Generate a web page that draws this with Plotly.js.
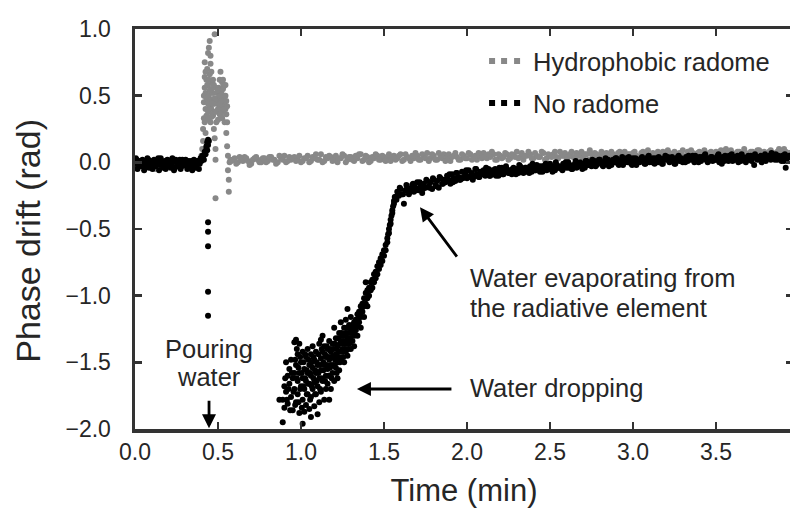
<!DOCTYPE html>
<html><head><meta charset="utf-8">
<script src="https://cdn.plot.ly/plotly-3.0.1.min.js"></script>
<style>html,body{margin:0;padding:0;overflow:hidden;background:#fff;width:790px;height:510px}</style>
</head><body><div id="chart"></div>
<script>
// ---------- Hydrophobic radome (grey) ----------
const grayPreT = [0.00,0.02,0.04,0.06,0.08,0.10,0.12,0.14,0.16,0.18,0.20,0.22,0.24,0.26,0.28,0.30,0.32,0.34,0.36,0.38,0.40];
const grayPreY = [0.01,-0.02,0.00,-0.04,0.02,-0.01,-0.05,0.01,-0.02,0.00,-0.03,0.02,-0.04,-0.01,0.01,-0.03,0.00,-0.05,-0.02,0.01,0.03];

const graySpikeT = [0.400,0.405,0.410,0.410,0.415,0.415,0.420,0.420,0.420,0.425,0.425,0.430,0.430,0.435,0.435,0.440,0.440,0.440,0.445,0.445,0.450,0.450,0.450,0.455,0.455,0.460,0.460,0.465,0.465,0.470,0.470,0.475,0.475,0.480,0.480,0.480,0.485,0.485,0.485,0.490,0.490,0.495,0.500,0.500,0.505,0.510,0.510,0.515,0.515,0.520,0.520,0.525,0.525,0.530,0.530,0.535,0.540,0.540,0.545,0.550,0.550,0.555,0.560,0.560,0.565,0.565,0.570,0.575];
const graySpikeY = [0.05,0.10,0.16,0.25,0.33,0.45,0.56,0.64,0.75,0.40,0.52,0.62,0.35,0.46,0.70,0.82,0.58,0.38,0.86,0.50,0.91,0.66,0.42,0.74,0.30,0.55,0.40,0.47,0.60,0.35,0.52,0.44,0.25,0.96,0.38,0.18,0.10,0.02,-0.27,0.45,0.30,0.52,0.40,0.48,0.56,0.36,0.62,0.45,0.68,0.40,0.53,0.60,0.33,0.47,0.38,0.57,0.43,0.30,0.50,0.36,0.22,0.12,0.05,-0.06,-0.13,-0.22,0.00,0.02];
const graySpike2T = [0.415,0.42,0.425,0.43,0.435,0.44,0.445,0.45,0.455,0.46,0.465,0.47,0.475,0.48,0.49,0.495,0.50,0.505,0.51,0.515,0.52,0.525,0.53,0.535,0.54,0.545,0.55,0.555,0.44,0.46,0.47,0.49,0.50,0.51,0.52,0.53,0.545,0.555,0.425,0.455];
const graySpike2Y = [0.50,0.30,0.68,0.48,0.58,0.32,0.62,0.54,0.46,0.68,0.36,0.44,0.58,0.48,0.38,0.44,0.32,0.40,0.50,0.36,0.46,0.42,0.55,0.40,0.50,0.40,0.46,0.30,0.44,0.34,0.62,0.56,0.54,0.44,0.34,0.62,0.58,0.42,0.22,0.80];

const grayTailT = [
0.58,0.60,0.62,0.64,0.66,0.68,0.70,0.72,0.74,0.76,
0.78,0.80,0.82,0.84,0.86,0.88,0.90,0.92,0.94,0.96,
0.98,1.00,1.02,1.04,1.06,1.08,1.10,1.12,1.14,1.16,
1.18,1.20,1.22,1.24,1.26,1.28,1.30,1.32,1.34,1.36,
1.38,1.40,1.42,1.44,1.46,1.48,1.50,1.52,1.54,1.56,
1.58,1.60,1.62,1.64,1.66,1.68,1.70,1.72,1.74,1.76,
1.78,1.80,1.82,1.84,1.86,1.88,1.90,1.92,1.94,1.96,
1.98,2.00,2.02,2.04,2.06,2.08,2.10,2.12,2.14,2.16,
2.18,2.20,2.22,2.24,2.26,2.28,2.30,2.32,2.34,2.36,
2.38,2.40,2.42,2.44,2.46,2.48,2.50,2.52,2.54,2.56,
2.58,2.60,2.62,2.64,2.66,2.68,2.70,2.72,2.74,2.76,
2.78,2.80,2.82,2.84,2.86,2.88,2.90,2.92,2.94,2.96,
2.98,3.00,3.02,3.04,3.06,3.08,3.10,3.12,3.14,3.16,
3.18,3.20,3.22,3.24,3.26,3.28,3.30,3.32,3.34,3.36,
3.38,3.40,3.42,3.44,3.46,3.48,3.50,3.52,3.54,3.56,
3.58,3.60,3.62,3.64,3.66,3.68,3.70,3.72,3.74,3.76,
3.78,3.80,3.82,3.84,3.86,3.88,3.90,3.92,3.94];
const grayTailY = [
0.01,0.03,0.00,0.02,0.04,0.01,-0.01,0.03,0.02,0.00,
0.03,0.01,0.04,0.02,0.00,0.03,0.05,0.01,0.02,0.04,
0.02,0.00,0.03,0.05,0.01,0.03,0.02,0.06,0.01,0.03,
0.04,0.02,0.00,0.03,0.05,0.02,0.04,0.01,0.03,0.06,
0.02,0.04,0.01,0.03,0.05,0.02,0.04,0.03,0.01,0.05,
0.03,0.06,0.02,0.04,0.01,0.03,0.05,0.02,0.04,0.07,
0.03,0.05,0.02,0.04,0.06,0.03,0.01,0.05,0.04,0.02,
0.05,0.03,0.06,0.04,0.02,0.05,0.07,0.03,0.04,0.06,
0.02,0.05,0.04,0.06,0.03,0.05,0.08,0.04,0.02,0.05,
0.06,0.03,0.05,0.04,0.07,0.03,0.05,0.06,0.04,0.08,
0.05,0.03,0.06,0.04,0.07,0.05,0.03,0.06,0.09,0.04,
0.06,0.05,0.03,0.07,0.05,0.06,0.04,0.08,0.05,0.03,
0.06,0.07,0.05,0.04,0.08,0.06,0.05,0.07,0.04,0.06,
0.08,0.05,0.07,0.06,0.04,0.07,0.09,0.05,0.06,0.07,
0.05,0.08,0.06,0.04,0.07,0.06,0.08,0.05,0.07,0.10,
0.06,0.07,0.05,0.08,0.06,0.07,0.04,0.08,0.06,0.09,
0.07,0.05,0.08,0.06,0.07,0.10,0.06,0.08,0.07];
const grayTail2T = [
0.59,0.61,0.63,0.65,0.67,0.69,0.71,0.73,0.75,0.77,
0.79,0.81,0.83,0.85,0.87,0.89,0.91,0.93,0.95,0.97,
0.99,1.01,1.03,1.05,1.07,1.09,1.11,1.13,1.15,1.17,
1.19,1.21,1.23,1.25,1.27,1.29,1.31,1.33,1.35,1.37,
1.39,1.41,1.43,1.45,1.47,1.49,1.51,1.53,1.55,1.57,
1.59,1.61,1.63,1.65,1.67,1.69,1.71,1.73,1.75,1.77,
1.79,1.81,1.83,1.85,1.87,1.89,1.91,1.93,1.95,1.97,
1.99,2.01,2.03,2.05,2.07,2.09,2.11,2.13,2.15,2.17,
2.19,2.21,2.23,2.25,2.27,2.29,2.31,2.33,2.35,2.37,
2.39,2.41,2.43,2.45,2.47,2.49,2.51,2.53,2.55,2.57,
2.59,2.61,2.63,2.65,2.67,2.69,2.71,2.73,2.75,2.77,
2.79,2.81,2.83,2.85,2.87,2.89,2.91,2.93,2.95,2.97,
2.99,3.01,3.03,3.05,3.07,3.09,3.11,3.13,3.15,3.17,
3.19,3.21,3.23,3.25,3.27,3.29,3.31,3.33,3.35,3.37,
3.39,3.41,3.43,3.45,3.47,3.49,3.51,3.53,3.55,3.57,
3.59,3.61,3.63,3.65,3.67,3.69,3.71,3.73,3.75,3.77,
3.79,3.81,3.83,3.85,3.87,3.89,3.91,3.93];
const grayTail2Y = [
0.02,-0.01,0.04,0.01,0.03,-0.02,0.02,0.04,0.00,0.03,
0.00,0.04,0.02,-0.01,0.05,0.02,0.00,0.04,0.03,0.01,
0.05,0.01,0.03,0.00,0.04,0.06,0.02,0.00,0.04,0.05,
0.01,0.05,0.03,0.06,0.00,0.04,0.02,0.05,0.06,0.01,
0.05,0.00,0.04,0.06,0.02,0.05,0.01,0.06,0.04,0.02,
0.05,0.01,0.06,0.03,0.05,0.07,0.02,0.06,0.03,0.01,
0.06,0.02,0.07,0.03,0.01,0.06,0.04,0.07,0.02,0.06,
0.03,0.07,0.02,0.05,0.07,0.03,0.04,0.06,0.08,0.02,
0.06,0.03,0.07,0.02,0.06,0.04,0.03,0.07,0.05,0.08,
0.03,0.07,0.04,0.08,0.02,0.06,0.04,0.08,0.03,0.05,
0.07,0.04,0.08,0.03,0.05,0.08,0.06,0.02,0.06,0.07,
0.03,0.08,0.06,0.04,0.08,0.03,0.07,0.05,0.08,0.06,
0.04,0.08,0.03,0.07,0.05,0.09,0.04,0.06,0.08,0.05,
0.06,0.09,0.04,0.08,0.05,0.07,0.04,0.08,0.09,0.05,
0.07,0.04,0.09,0.06,0.08,0.05,0.07,0.09,0.04,0.07,
0.09,0.05,0.08,0.06,0.10,0.05,0.08,0.06,0.09,0.05,
0.08,0.06,0.09,0.05,0.08,0.07,0.10,0.06];

// ---------- No radome (black) ----------
const blackPreT = [
0.00,0.01,0.02,0.03,0.04,0.05,0.06,0.07,0.08,0.09,
0.10,0.11,0.12,0.13,0.14,0.15,0.16,0.17,0.18,0.19,
0.20,0.21,0.22,0.23,0.24,0.25,0.26,0.27,0.28,0.29,
0.30,0.31,0.32,0.33,0.34,0.35,0.36,0.37,0.38,0.39,
0.40,0.41,0.42,0.43,0.43,0.435,0.44,0.44];
const blackPreY = [
-0.01,0.02,-0.03,0.00,-0.02,0.01,-0.04,-0.01,0.02,-0.02,
0.00,-0.03,0.01,-0.01,0.03,-0.02,0.00,-0.04,0.01,-0.01,
-0.03,0.01,-0.02,0.00,-0.04,0.01,-0.01,0.02,-0.03,0.00,
-0.02,0.01,-0.04,-0.01,0.01,-0.03,0.00,-0.02,0.01,-0.01,
0.01,0.04,0.08,0.12,0.10,0.15,0.17,0.13];
const blackPre2T = [
0.005,0.015,0.025,0.035,0.045,0.055,0.065,0.075,0.085,0.095,
0.105,0.115,0.125,0.135,0.145,0.155,0.165,0.175,0.185,0.195,
0.205,0.215,0.225,0.235,0.245,0.255,0.265,0.275,0.285,0.295,
0.305,0.315,0.325,0.335,0.345,0.355,0.365,0.375,0.385,0.395,
0.405,0.415,0.425,0.435,0.445];
const blackPre2Y = [
0.03,-0.05,0.01,-0.03,0.02,-0.06,0.00,0.03,-0.04,0.01,
-0.05,0.02,-0.03,0.01,-0.06,0.03,-0.02,0.00,-0.05,0.02,
0.01,-0.04,0.03,-0.06,0.02,-0.03,0.01,-0.05,0.02,-0.02,
0.02,-0.05,0.01,-0.03,-0.06,0.02,-0.04,0.01,-0.05,0.03,
0.05,0.02,0.06,0.09,0.16];

const blackDropT = [0.44,0.44,0.44,0.44,0.44];
const blackDropY = [-0.45,-0.52,-0.63,-0.97,-1.15];

const blackCloudT = [
0.87,0.89,0.89,0.90,0.90,
0.91,0.91,0.92,0.92,0.93,0.93,0.94,0.94,0.95,0.95,
0.96,0.96,0.96,0.97,0.97,0.97,0.98,0.98,0.98,0.99,0.99,0.99,1.00,1.00,
1.01,1.01,1.01,1.01,1.02,1.02,1.02,1.03,1.03,1.03,1.04,1.04,1.04,1.05,1.05,1.05,
1.06,1.06,1.06,1.06,1.07,1.07,1.07,1.08,1.08,1.08,1.09,1.09,1.09,1.10,1.10,1.10,
1.11,1.11,1.11,1.12,1.12,1.12,1.12,1.13,1.13,1.13,1.14,1.14,1.14,1.15,1.15,1.15,
1.16,1.16,1.16,1.17,1.17,1.17,1.17,1.18,1.18,1.18,1.19,1.19,1.19,1.20,1.20,
1.21,1.21,1.21,1.22,1.22,1.22,1.23,1.23,1.23,1.24,1.24,1.24,1.25,1.25,
1.26,1.26,1.26,1.27,1.27,1.27,1.28,1.28,1.28,1.29,1.29,1.30,1.30,1.30];
const blackCloudY = [
-1.78,-1.78,-1.95,-1.68,-1.84,
-1.50,-1.72,-1.60,-1.81,-1.55,-1.66,-1.76,-1.48,-1.62,-1.86,
-1.35,-1.58,-1.70,-1.33,-1.52,-1.80,-1.64,-1.44,-1.74,-1.36,-1.58,-1.88,-1.50,-1.68,
-1.96,-1.42,-1.62,-1.78,-1.55,-1.70,-1.87,-1.46,-1.64,-1.82,-1.40,-1.58,-1.74,-1.52,-1.66,-1.85,
-1.91,-1.44,-1.60,-1.76,-1.38,-1.54,-1.70,-1.48,-1.65,-1.83,-1.42,-1.58,-1.74,-1.89,-1.52,-1.68,
-1.36,-1.62,-1.80,-1.33,-1.47,-1.56,-1.72,-1.30,-1.42,-1.64,-1.52,-1.78,-1.38,-1.46,-1.60,-1.70,
-1.40,-1.55,-1.66,-1.78,-1.34,-1.48,-1.60,-1.42,-1.52,-1.70,-1.36,-1.46,-1.58,-1.24,-1.64,
-1.32,-1.44,-1.54,-1.38,-1.50,-1.62,-1.28,-1.42,-1.56,-1.20,-1.34,-1.47,-1.30,-1.40,
-1.24,-1.36,-1.50,-1.28,-1.42,-1.18,-1.10,-1.32,-1.45,-1.22,-1.36,-1.16,-1.28,-1.40];
const blackCloud2T = [
0.905,0.915,0.925,0.935,0.945,0.955,0.965,0.965,0.975,0.975,
0.985,0.985,0.995,0.995,1.005,1.005,1.015,1.015,1.025,1.025,
1.035,1.035,1.045,1.045,1.055,1.055,1.065,1.065,1.075,1.075,
1.085,1.085,1.095,1.095,1.105,1.105,1.115,1.115,1.125,1.125,
1.135,1.135,1.145,1.145,1.155,1.155,1.165,1.165,1.175,1.175,
1.185,1.185,1.195,1.195,1.205,1.205,1.215,1.215,1.225,1.225,
1.235,1.235,1.245,1.245,1.255,1.255,1.265,1.265,1.275,1.275,
1.285,1.285,1.295,1.295,1.305,1.315,1.325,1.345,1.355,1.365];
const blackCloud2Y = [
-1.62,-1.78,-1.70,-1.86,-1.58,-1.72,-1.48,-1.82,-1.62,-1.40,
-1.54,-1.80,-1.46,-1.70,-1.58,-1.84,-1.50,-1.68,-1.62,-1.44,
-1.56,-1.74,-1.48,-1.66,-1.58,-1.78,-1.50,-1.68,-1.62,-1.46,
-1.56,-1.74,-1.50,-1.64,-1.44,-1.58,-1.52,-1.70,-1.40,-1.62,
-1.50,-1.56,-1.44,-1.64,-1.52,-1.38,-1.46,-1.60,-1.40,-1.54,
-1.46,-1.62,-1.40,-1.52,-1.36,-1.48,-1.40,-1.58,-1.32,-1.46,
-1.36,-1.50,-1.28,-1.42,-1.34,-1.46,-1.30,-1.40,-1.24,-1.36,
-1.28,-1.40,-1.24,-1.32,-1.26,-1.28,-1.24,-1.18,-1.14,-1.10];

const blackRiseT = [
1.31,1.31,1.32,1.32,1.32,1.33,1.33,1.34,1.34,1.34,
1.35,1.35,1.36,1.36,1.36,1.37,1.37,1.38,1.38,1.38,
1.39,1.39,1.39,1.40,1.40,1.40,1.41,1.41,1.42,1.42,
1.43,1.43,1.44,1.44,1.45,1.45,1.46,1.46,1.47,1.47,
1.48,1.48,1.49,1.49,1.50,1.50,1.51,1.51,1.52,1.52,
1.525,1.53,1.53,1.535,1.54,1.54,1.545,1.55,1.55,1.555,
1.56,1.56,1.565];
const blackRiseY = [
-1.22,-1.34,-1.20,-1.30,-1.38,-1.18,-1.26,-1.14,-1.22,-1.30,
-1.12,-1.20,-1.08,-1.16,-1.24,-1.06,-1.12,-1.02,-1.08,-1.16,
-0.98,-1.06,-0.90,-0.96,-1.02,-1.08,-0.94,-1.00,-0.90,-0.96,
-0.88,-0.94,-0.84,-0.90,-0.82,-0.87,-0.78,-0.84,-0.75,-0.80,
-0.72,-0.77,-0.69,-0.74,-0.66,-0.70,-0.62,-0.66,-0.57,-0.60,
-0.54,-0.50,-0.53,-0.47,-0.43,-0.46,-0.40,-0.36,-0.38,-0.33,
-0.29,-0.31,-0.26];

const blackTailT = [
1.57,1.58,1.59,1.60,1.61,1.62,1.63,1.64,1.65,1.66,
1.67,1.68,1.69,1.70,1.71,1.72,1.73,1.74,1.75,1.76,
1.77,1.78,1.79,1.80,1.81,1.82,1.83,1.84,1.85,1.86,
1.87,1.88,1.89,1.90,1.91,1.92,1.93,1.94,1.95,1.96,
1.97,1.98,1.99,2.00,2.01,2.02,2.03,2.04,2.05,2.06,
2.07,2.08,2.09,2.10,2.11,2.12,2.13,2.14,2.15,2.16,
2.17,2.18,2.19,2.20,2.21,2.22,2.23,2.24,2.25,2.26,
2.27,2.28,2.29,2.30,2.31,2.32,2.33,2.34,2.35,2.36,
2.37,2.38,2.39,2.40,2.41,2.42,2.43,2.44,2.45,2.46,
2.47,2.48,2.49,2.50,2.51,2.52,2.53,2.54,2.55,2.56,
2.57,2.58,2.59,2.60,2.61,2.62,2.63,2.64,2.65,2.66,
2.67,2.68,2.69,2.70,2.71,2.72,2.73,2.74,2.75,2.76,
2.77,2.78,2.79,2.80,2.81,2.82,2.83,2.84,2.85,2.86,
2.87,2.88,2.89,2.90,2.91,2.92,2.93,2.94,2.95,2.96,
2.97,2.98,2.99,3.00,3.01,3.02,3.03,3.04,3.05,3.06,
3.07,3.08,3.09,3.10,3.11,3.12,3.13,3.14,3.15,3.16,
3.17,3.18,3.19,3.20,3.21,3.22,3.23,3.24,3.25,3.26,
3.27,3.28,3.29,3.30,3.31,3.32,3.33,3.34,3.35,3.36,
3.37,3.38,3.39,3.40,3.41,3.42,3.43,3.44,3.45,3.46,
3.47,3.48,3.49,3.50,3.51,3.52,3.53,3.54,3.55,3.56,
3.57,3.58,3.59,3.60,3.61,3.62,3.63,3.64,3.65,3.66,
3.67,3.68,3.69,3.70,3.71,3.72,3.73,3.74,3.75,3.76,
3.77,3.78,3.79,3.80,3.81,3.82,3.83,3.84,3.85,3.86,
3.87,3.88,3.89,3.90,3.91,3.92,3.93,3.94,3.92];
const blackTailY = [
-0.26,-0.22,-0.25,-0.20,-0.24,-0.31,-0.21,-0.19,-0.24,-0.20,
-0.17,-0.22,-0.19,-0.15,-0.21,-0.18,-0.23,-0.16,-0.19,-0.14,
-0.18,-0.15,-0.20,-0.13,-0.17,-0.14,-0.19,-0.12,-0.16,-0.13,
-0.15,-0.10,-0.13,-0.16,-0.09,-0.12,-0.14,-0.08,-0.11,-0.13,
-0.07,-0.11,-0.09,-0.12,-0.06,-0.10,-0.08,-0.11,-0.05,-0.09,
-0.11,-0.07,-0.09,-0.06,-0.10,-0.08,-0.05,-0.10,-0.07,-0.09,
-0.05,-0.08,-0.10,-0.06,-0.04,-0.09,-0.07,-0.05,-0.08,-0.06,
-0.09,-0.04,-0.07,-0.05,-0.08,-0.03,-0.06,-0.08,-0.04,-0.07,
-0.05,-0.03,-0.07,-0.04,-0.06,-0.02,-0.05,-0.07,-0.03,-0.05,
-0.02,-0.06,-0.04,-0.01,-0.05,-0.03,-0.06,-0.02,-0.04,-0.03,
-0.05,-0.01,-0.03,-0.04,0.00,-0.02,-0.05,-0.03,-0.01,-0.04,
-0.02,0.00,-0.03,-0.01,-0.04,0.01,-0.02,0.00,-0.03,-0.01,
0.01,-0.02,0.00,0.02,-0.01,-0.03,0.01,-0.01,0.02,0.00,
-0.02,0.02,0.00,0.03,-0.01,0.01,0.02,-0.02,0.01,0.03,
0.00,0.02,-0.01,0.03,0.01,-0.02,0.02,0.00,0.03,0.01,
-0.01,0.02,0.04,0.00,0.01,0.03,-0.01,0.02,0.00,0.03,
0.01,-0.01,0.03,0.02,0.04,0.00,0.02,0.03,-0.01,0.02,
0.04,0.01,0.03,0.00,0.02,0.04,0.01,0.03,0.02,0.05,
0.00,0.03,0.02,0.04,0.01,0.03,0.05,0.02,0.00,0.03,
0.04,0.01,0.03,0.02,0.05,0.00,0.03,0.04,0.01,0.03,
0.02,0.05,0.03,0.01,0.04,0.02,0.05,0.03,0.01,0.04,
0.03,0.00,0.04,0.02,0.05,0.03,-0.02,0.04,0.02,0.03,
0.05,0.02,0.04,0.01,0.03,0.05,0.02,0.04,0.03,0.06,
0.02,0.04,0.03,0.05,0.01,0.04,0.03,0.05,-0.04];
const blackTail2T = [
1.575,1.595,1.615,1.635,1.655,1.675,1.695,1.715,1.735,1.755,
1.775,1.795,1.815,1.835,1.855,1.875,1.895,1.915,1.935,1.955,
1.975,1.995,2.015,2.035,2.055,2.075,2.095,2.115,2.135,2.155,
2.175,2.195,2.215,2.235,2.255,2.275,2.295,2.315,2.335,2.355,
2.375,2.395,2.415,2.435,2.455,2.475,2.495,2.515,2.535,2.555,
2.575,2.595,2.615,2.635,2.655,2.675,2.695,2.715,2.735,2.755,
2.775,2.795,2.815,2.835,2.855,2.875,2.895,2.915,2.935,2.955,
2.975,2.995,3.015,3.035,3.055,3.075,3.095,3.115,3.135,3.155,
3.175,3.195,3.215,3.235,3.255,3.275,3.295,3.315,3.335,3.355,
3.375,3.395,3.415,3.435,3.455,3.475,3.495,3.515,3.535,3.555,
3.575,3.595,3.615,3.635,3.655,3.675,3.695,3.715,3.735,3.755,
3.775,3.795,3.815,3.835,3.855,3.875,3.895,3.915,3.935];
const blackTail2Y = [
-0.28,-0.19,-0.24,-0.17,-0.22,-0.16,-0.21,-0.15,-0.20,-0.13,
-0.19,-0.12,-0.18,-0.11,-0.16,-0.14,-0.09,-0.15,-0.08,-0.13,
-0.12,-0.06,-0.11,-0.13,-0.05,-0.11,-0.08,-0.04,-0.10,-0.06,
-0.10,-0.04,-0.09,-0.03,-0.08,-0.05,-0.09,-0.02,-0.07,-0.04,
-0.08,-0.01,-0.06,-0.03,-0.07,-0.01,-0.05,-0.07,0.00,-0.04,
-0.06,0.00,-0.04,-0.05,0.01,-0.03,-0.05,0.01,-0.02,0.02,
-0.03,0.02,-0.02,0.03,-0.03,0.01,0.03,-0.02,0.04,0.00,
0.04,-0.02,0.03,0.01,0.04,-0.01,0.05,0.00,0.03,0.04,
-0.01,0.05,0.02,0.04,-0.01,0.05,0.02,0.00,0.05,0.03,
0.05,0.00,0.04,0.06,0.01,0.04,0.02,0.06,-0.01,0.05,
0.01,0.06,0.03,0.00,0.06,0.02,0.05,0.01,0.06,0.04,
0.00,0.06,0.03,0.07,0.02,0.05,0.01,0.06,0.04];

const xTicks = [0.0,0.5,1.0,1.5,2.0,2.5,3.0,3.5];
const yTicks = [-2.0,-1.5,-1.0,-0.5,0.0,0.5,1.0];
const seriesNames = ['Hydrophobic radome','No radome'];
const seriesColors = ['#888888','#000000'];

const FONT = 'Liberation Sans, Arial, Helvetica, sans-serif';
const TXT = '#262626';
const AX = '#333333';
// legend key drawn as three dots (gap, dot, gap, dot, gap, dot)
const LEGEND_DOTS = '0px,1px,6px,6px,6px,7px,6px,40px';

const traces = [
  {type:'scatter', mode:'markers', name:seriesNames[0], showlegend:false,
   x: grayPreT.concat(graySpikeT, graySpike2T, grayTailT, grayTail2T),
   y: grayPreY.concat(graySpikeY, graySpike2Y, grayTailY, grayTail2Y),
   marker:{color:seriesColors[0], size:6, line:{width:0}}, hoverinfo:'skip'},
  {type:'scatter', mode:'markers', name:seriesNames[1], showlegend:false,
   x: blackPreT.concat(blackPre2T, blackDropT, blackCloudT, blackCloud2T, blackRiseT, blackTailT, blackTail2T),
   y: blackPreY.concat(blackPre2Y, blackDropY, blackCloudY, blackCloud2Y, blackRiseY, blackTailY, blackTail2Y),
   marker:{color:seriesColors[1], size:6, line:{width:0}}, hoverinfo:'skip'},
  {type:'scatter', mode:'lines', name:seriesNames[0], legendgroup:'g1', x:[null], y:[null],
   line:{color:seriesColors[0], width:6, dash:LEGEND_DOTS}, hoverinfo:'skip'},
  {type:'scatter', mode:'lines', name:seriesNames[1], legendgroup:'g2', x:[null], y:[null],
   line:{color:seriesColors[1], width:6, dash:LEGEND_DOTS}, hoverinfo:'skip'}
];

const axisCommon = {
  showgrid:false, zeroline:false, showline:true, linewidth:3.5, linecolor:AX,
  mirror:'ticks', ticks:'inside', ticklen:7, tickwidth:2.5, tickcolor:AX,
  tickfont:{family:FONT, size:23, color:TXT}, tickformat:'.1f'
};

const arrowStyle = {showarrow:true, arrowhead:2, arrowsize:1, arrowwidth:2.8, arrowcolor:'#000', text:'', xref:'x', yref:'y', axref:'pixel', ayref:'pixel'};
const txtStyle = {showarrow:false, xref:'x', yref:'y', font:{family:FONT, size:25.5, color:TXT}};

const layout = {
  width:795, height:510,
  margin:{l:135, r:2, t:29, b:81},
  paper_bgcolor:'#fff', plot_bgcolor:'#fff',
  font:{family:FONT, color:TXT},
  showlegend:true,
  legend:{x:0.529, y:0.978, xanchor:'left', yanchor:'top', bgcolor:'rgba(0,0,0,0)', itemwidth:40,
          font:{family:FONT, size:25.5, color:TXT}, tracegroupgap:6},
  xaxis: Object.assign({}, axisCommon, {range:[0,3.964], tickvals:xTicks, ticklabelstandoff:0,
          title:{text:'Time (min)', font:{family:FONT, size:31, color:TXT}, standoff:16}}),
  yaxis: Object.assign({}, axisCommon, {range:[-2,1], tickvals:yTicks, ticklabelstandoff:16}),
  annotations:[
    {xref:'paper', yref:'paper', x:-0.163, y:0.47, xanchor:'center', yanchor:'middle', textangle:-90,
     showarrow:false, text:'Phase drift (rad)', font:{family:FONT, size:34, color:TXT}},
    Object.assign({}, txtStyle, {x:0.446, y:-1.40, text:'Pouring', xanchor:'center', yanchor:'middle'}),
    Object.assign({}, txtStyle, {x:0.446, y:-1.61, text:'water', xanchor:'center', yanchor:'middle'}),
    Object.assign({}, arrowStyle, {x:0.446, y:-1.995, ax:0, ay:-29}),
    Object.assign({}, txtStyle, {x:2.006, y:-1.69, text:'Water dropping', xanchor:'left', yanchor:'middle'}),
    Object.assign({}, arrowStyle, {x:1.337, y:-1.70, ax:96, ay:0}),
    Object.assign({}, txtStyle, {x:2.006, y:-0.87, text:'Water evaporating from', xanchor:'left', yanchor:'middle'}),
    Object.assign({}, txtStyle, {x:2.006, y:-1.09, text:'the radiative element', xanchor:'left', yanchor:'middle'}),
    Object.assign({}, arrowStyle, {x:1.717, y:-0.336, ax:38, ay:51})
  ]
};

Plotly.newPlot('chart', traces, layout, {staticPlot:true, displayModeBar:false});
</script>
</body></html>
